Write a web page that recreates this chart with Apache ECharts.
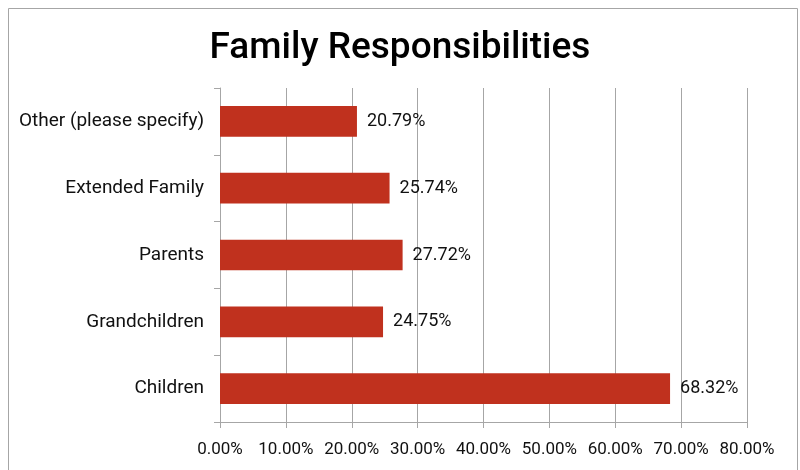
<!DOCTYPE html>
<html><head><meta charset="utf-8">
<script src="https://cdn.jsdelivr.net/npm/echarts@6/dist/echarts.min.js"></script>
<style>html,body{margin:0;padding:0;background:#fff}#c{width:800px;height:470px}</style>
</head><body><div id="c"></div>
<script>
const titleText = 'Family Responsibilities';
const categories = ['Children', 'Grandchildren', 'Parents', 'Extended Family', 'Other (please specify)'];
const values = [68.32, 24.75, 27.72, 25.74, 20.79];
const axisMax = 80;
const axisStep = 10;

const chart = echarts.init(document.getElementById('c'), null, {renderer: 'canvas'});
chart.setOption({
  animation: false,
  backgroundColor: '#fff',
  graphic: [{type: 'rect', shape: {x: 8.5, y: 8.5, width: 789, height: 480}, style: {fill: 'none', stroke: '#a6a6a6', lineWidth: 1}, silent: true}],
  title: {text: titleText, left: 'center', top: 25,
    textStyle: {fontFamily: 'Roboto', fontWeight: 500, fontSize: 37, color: '#000'}},
  grid: {left: 220, right: 53, top: 88, bottom: 48, containLabel: false},
  xAxis: {type: 'value', min: 0, max: axisMax, interval: axisStep,
    axisLine: {show: true, lineStyle: {color: '#a6a6a6', width: 1}},
    axisTick: {show: true, length: 6, lineStyle: {color: '#a6a6a6'}},
    splitLine: {show: true, lineStyle: {color: '#a6a6a6', width: 1}},
    axisLabel: {margin: 19, fontFamily: 'Roboto', fontSize: 17, color: '#111',
      formatter: v => v.toFixed(2) + '%'}},
  yAxis: {type: 'category', data: categories,
    axisLine: {show: true, lineStyle: {color: '#a6a6a6', width: 1}},
    axisTick: {show: true, length: 6, lineStyle: {color: '#a6a6a6'}},
    axisLabel: {margin: 16, fontFamily: 'Roboto', fontSize: 19, color: '#111'}},
  series: [{type: 'bar', data: values, barWidth: '46%',
    itemStyle: {color: '#c0311e'},
    label: {show: true, position: 'right', distance: 10, fontFamily: 'Roboto', fontSize: 18, color: '#111',
      formatter: p => p.value.toFixed(2) + '%'}}]
});
</script></body></html>
